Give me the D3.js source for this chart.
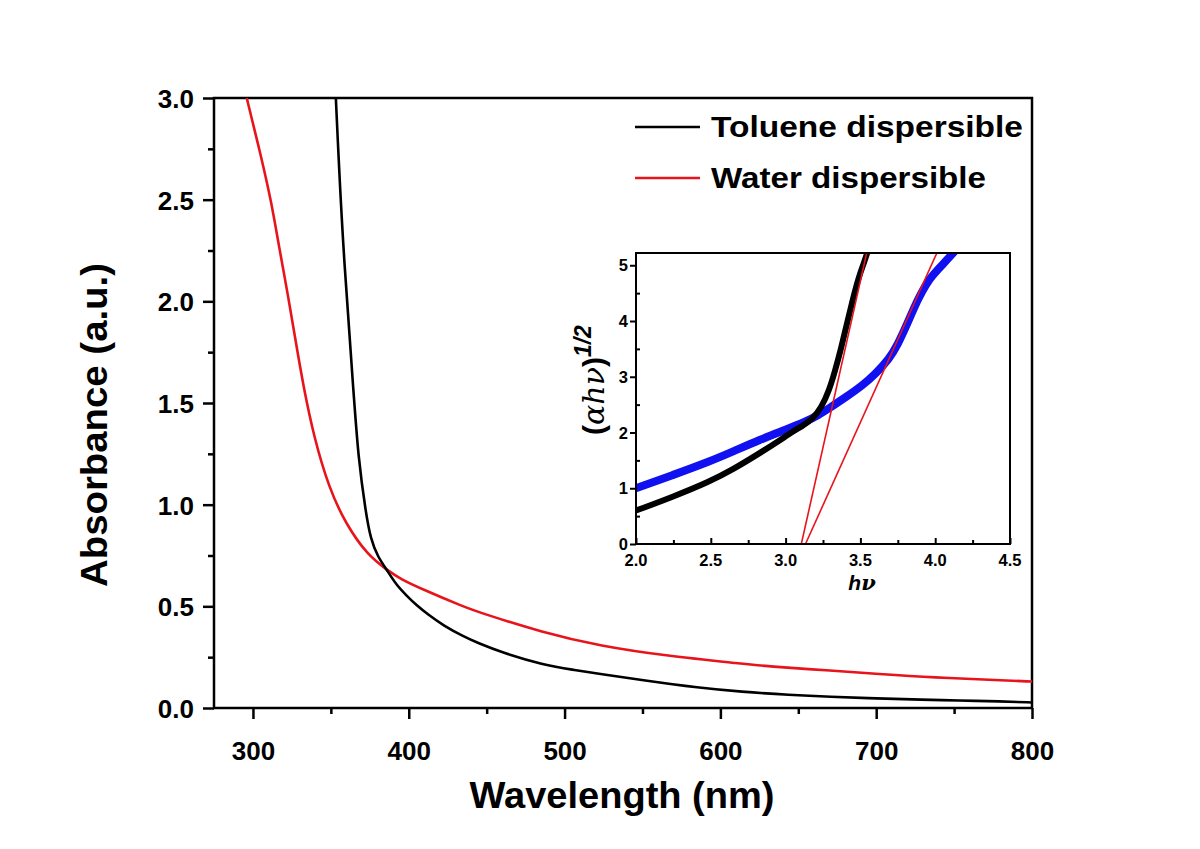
<!DOCTYPE html>
<html><head><meta charset="utf-8">
<script src="https://cdn.jsdelivr.net/npm/d3@7"></script>
<style>body{margin:0;background:#fff}svg{display:block}</style>
</head><body>
<svg id="c" width="1200" height="849"></svg>
<script>
// ---- main chart data (wavelength nm, absorbance) ----
const tolueneWl  = [353.2,357.4,364.9,367.5,372.4,375.6,380,386.3,392,399.2,405,412,422.3,435.6,443.7,460,486.5,505,522.9,548.6,587.1,612.8,644.9,670,700.6,730,752,780,800];
const tolueneAbs = [3.0,2.30,1.52,1.24,0.96,0.83,0.745,0.675,0.605,0.548,0.505,0.462,0.405,0.350,0.322,0.272,0.212,0.188,0.168,0.138,0.098,0.080,0.064,0.055,0.047,0.041,0.037,0.033,0.027];
const waterWl    = [296,305,311.8,316.7,322.5,327.5,332.2,339.2,348.9,359.6,373.5,386.3,394.5,409.9,435.6,443.7,486.5,522.9,565.8,612.8,630,672.7,700.6,737,779.8,800];
const waterAbs   = [3.0,2.72,2.49,2.27,2.03,1.80,1.59,1.33,1.08,0.905,0.752,0.678,0.635,0.580,0.497,0.474,0.370,0.305,0.256,0.219,0.205,0.183,0.168,0.150,0.137,0.130];
const xTicks = [300,400,500,600,700,800];
const yTicks = [0.0,0.5,1.0,1.5,2.0,2.5,3.0];
const seriesNames = ["Toluene dispersible","Water dispersible"];

// ---- inset data (hν, (αhν)^1/2) ----
const insetBlackX = [2.0,2.25,2.493,2.65,2.827,2.95,3.049,3.12,3.182,3.24,3.29,3.33,3.37,3.41,3.45,3.49,3.525,3.555];
const insetBlackY = [0.6,0.85,1.12,1.34,1.63,1.84,2.02,2.13,2.25,2.45,2.75,3.1,3.5,3.95,4.4,4.8,5.05,5.3];
const insetBlueX  = [2.0,2.25,2.493,2.65,2.827,3.0,3.138,3.22,3.293,3.4,3.516,3.6,3.693,3.75,3.81,3.86,3.91,3.96,4.02,4.08,4.14];
const insetBlueY  = [1.0,1.24,1.48,1.66,1.87,2.05,2.20,2.31,2.44,2.63,2.85,3.05,3.32,3.58,3.93,4.25,4.52,4.75,4.93,5.10,5.28];
const fit1X = [3.105,3.542], fit1Y = [0,5.22];
const fit2X = [3.133,4.011], fit2Y = [0,5.22];
const insetXTicks = [2.0,2.5,3.0,3.5,4.0,4.5];
const insetYTicks = [0,1,2,3,4,5];

const svg = d3.select("#c");
const F = "Arial, 'Liberation Sans', sans-serif";

// ---- main scales ----
const L=214,R=1032,T=98,B=708;
const x = d3.scaleLinear().domain([275,800]).range([L,R]);
const y = d3.scaleLinear().domain([0,3]).range([B,T]);

svg.append("rect").attr("x",L).attr("y",T).attr("width",R-L).attr("height",B-T)
  .attr("fill","none").attr("stroke","#000").attr("stroke-width",2.5);

const xa = svg.append("g").attr("transform",`translate(0,${B})`)
  .call(d3.axisBottom(x).tickValues(xTicks).tickSize(11).tickFormat(d3.format("d")));
const xm = svg.append("g").attr("transform",`translate(0,${B})`)
  .call(d3.axisBottom(x).tickValues([350,450,550,650,750]).tickSize(6).tickFormat(""));
const ya = svg.append("g").attr("transform",`translate(${L},0)`)
  .call(d3.axisLeft(y).tickValues(yTicks).tickSize(11).tickFormat(d3.format(".1f")));
const ym = svg.append("g").attr("transform",`translate(${L},0)`)
  .call(d3.axisLeft(y).tickValues([0.25,0.75,1.25,1.75,2.25,2.75]).tickSize(6).tickFormat(""));
[xa,xm,ya,ym].forEach(g=>{
  g.select(".domain").remove();
  g.selectAll("line").attr("stroke","#000").attr("stroke-width",2.5);
  g.selectAll("text").attr("font-family",F).attr("font-weight","bold").attr("font-size",26).attr("fill","#000");
});
xa.selectAll("text").attr("dy",0).attr("y",52);
ya.selectAll("text").attr("x",-20).attr("dy","0.36em");

// titles
svg.append("text").attr("x",622).attr("y",808).attr("text-anchor","middle")
  .attr("font-family",F).attr("font-weight","bold").attr("font-size",36)
  .attr("textLength",305).attr("lengthAdjust","spacingAndGlyphs").text("Wavelength (nm)");
svg.append("text").attr("transform","translate(107,425) rotate(-90)").attr("text-anchor","middle")
  .attr("font-family",F).attr("font-weight","bold").attr("font-size",36)
  .attr("textLength",324).attr("lengthAdjust","spacingAndGlyphs").text("Absorbance (a.u.)");

// curves
svg.append("clipPath").attr("id","mc").append("rect").attr("x",L).attr("y",T).attr("width",R-L).attr("height",B-T);
const line = d3.line().x(d=>x(d[0])).y(d=>y(d[1])).curve(d3.curveBasis);
svg.append("path").datum(waterWl.map((w,i)=>[w,waterAbs[i]])).attr("d",line)
  .attr("fill","none").attr("stroke","#e8141c").attr("stroke-width",2.6).attr("clip-path","url(#mc)");
svg.append("path").datum(tolueneWl.map((w,i)=>[w,tolueneAbs[i]])).attr("d",line)
  .attr("fill","none").attr("stroke","#000").attr("stroke-width",2.6).attr("clip-path","url(#mc)");

// legend
const leg = [{n:seriesNames[0],c:"#000",yy:127,w:312},{n:seriesNames[1],c:"#e8141c",yy:178,w:275}];
leg.forEach(l=>{
  svg.append("line").attr("x1",635).attr("x2",700).attr("y1",l.yy).attr("y2",l.yy).attr("stroke",l.c).attr("stroke-width",2.5);
  svg.append("text").attr("x",711).attr("y",l.yy+10).attr("font-family",F).attr("font-weight","bold")
    .attr("font-size",30).attr("textLength",l.w).attr("lengthAdjust","spacingAndGlyphs").text(l.n);
});

// ---- inset ----
const iL=636,iR=1010,iT=253,iB=544;
const ix = d3.scaleLinear().domain([2.0,4.5]).range([iL,iR]);
const iy = d3.scaleLinear().domain([0,5.22]).range([iB,iT]);
svg.append("clipPath").attr("id","ic").append("rect").attr("x",iL).attr("y",iT).attr("width",iR-iL).attr("height",iB-iT);

const il = d3.line().x(d=>ix(d[0])).y(d=>iy(d[1])).curve(d3.curveBasis);
svg.append("path").datum(insetBlueX.map((v,i)=>[v,insetBlueY[i]])).attr("d",il)
  .attr("fill","none").attr("stroke","#1010f0").attr("stroke-width",8).attr("clip-path","url(#ic)");
svg.append("path").datum(insetBlackX.map((v,i)=>[v,insetBlackY[i]])).attr("d",il)
  .attr("fill","none").attr("stroke","#000").attr("stroke-width",6).attr("clip-path","url(#ic)");
const sl = d3.line().x(d=>ix(d[0])).y(d=>iy(d[1]));
[[fit1X,fit1Y],[fit2X,fit2Y]].forEach(f=>{
  svg.append("path").datum(f[0].map((v,i)=>[v,f[1][i]])).attr("d",sl)
    .attr("fill","none").attr("stroke","#e8141c").attr("stroke-width",1.6);
});

svg.append("rect").attr("x",iL).attr("y",iT).attr("width",iR-iL).attr("height",iB-iT)
  .attr("fill","none").attr("stroke","#000").attr("stroke-width",2);
const ixa = svg.append("g").attr("transform",`translate(0,${iB})`)
  .call(d3.axisTop(ix).tickValues(insetXTicks).tickSize(6).tickFormat(""));
const ixm = svg.append("g").attr("transform",`translate(0,${iB})`)
  .call(d3.axisTop(ix).tickValues([2.25,2.75,3.25,3.75,4.25]).tickSize(4).tickFormat(""));
const iya = svg.append("g").attr("transform",`translate(${iL},0)`)
  .call(d3.axisLeft(iy).tickValues(insetYTicks).tickSize(6).tickFormat(""));
const iym = svg.append("g").attr("transform",`translate(${iL},0)`)
  .call(d3.axisRight(iy).tickValues([0.5,1.5,2.5,3.5,4.5]).tickSize(4).tickFormat(""));
[ixa,ixm,iya,iym].forEach(g=>{
  g.select(".domain").remove();
  g.selectAll("line").attr("stroke","#000").attr("stroke-width",2);
});
insetXTicks.forEach(t=>{
  svg.append("text").attr("x",ix(t)).attr("y",iB+22).attr("text-anchor","middle")
    .attr("font-family",F).attr("font-weight","bold").attr("font-size",16.5).text(t.toFixed(1));
});
insetYTicks.forEach(t=>{
  svg.append("text").attr("x",iL-8).attr("y",iy(t)+6).attr("text-anchor","end")
    .attr("font-family",F).attr("font-weight","bold").attr("font-size",16.5).text(t);
});
// inset titles
const hv = svg.append("text").attr("x",862).attr("y",590).attr("text-anchor","middle")
  .attr("font-family",F).attr("font-weight","bold").attr("font-style","italic").attr("font-size",21);
hv.append("tspan").text("h");
hv.append("tspan").attr("font-family","'DejaVu Serif', serif").text("ν");
const yl = svg.append("text").attr("transform","translate(604,380) rotate(-90)").attr("text-anchor","middle")
  .attr("font-family",F).attr("font-weight","bold").attr("font-size",30);
yl.append("tspan").text("(");
yl.append("tspan").attr("font-family","'DejaVu Serif', serif").attr("font-style","italic").attr("font-weight","normal").text("αhν");
yl.append("tspan").text(")");
yl.append("tspan").attr("dy",-13).attr("font-style","italic").attr("font-size",23).text("1/2");
</script>
</body></html>
